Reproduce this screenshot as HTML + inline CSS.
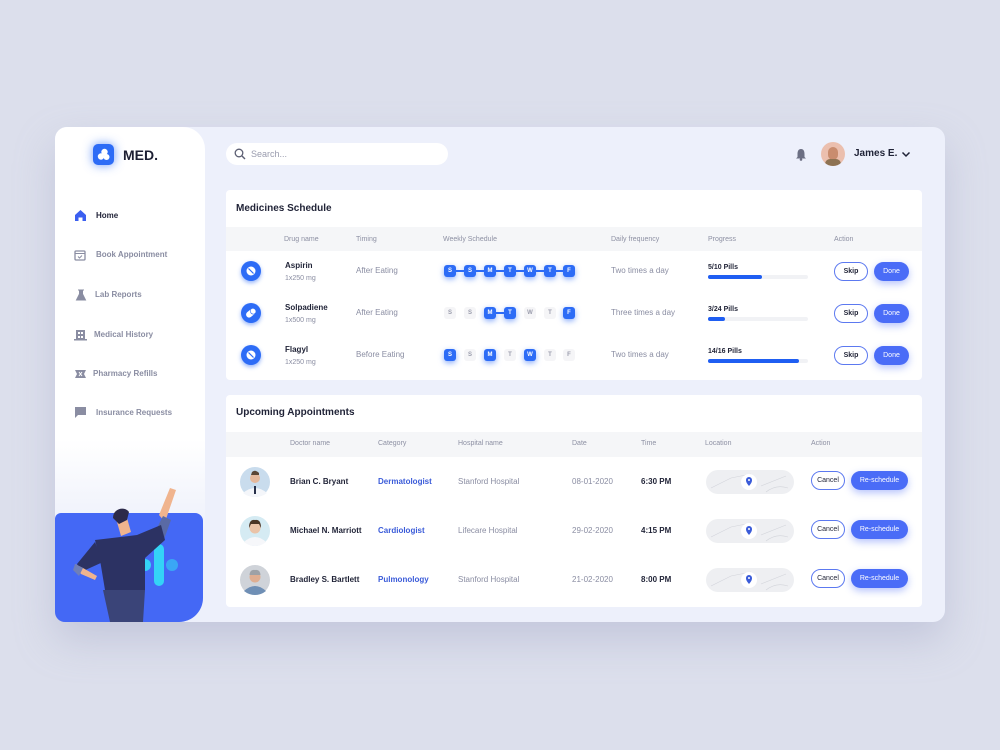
<!DOCTYPE html>
<html><head><meta charset="utf-8">
<style>
*{margin:0;padding:0;box-sizing:border-box}
body{width:1000px;height:750px;background:#dcdfec;font-family:"Liberation Sans",sans-serif;position:relative;overflow:hidden}
.abs{position:absolute}
.card{position:absolute;left:55px;top:127px;width:890px;height:495px;background:#edf0fb;border-radius:12px;box-shadow:0 18px 40px rgba(150,155,190,0.35)}
.side{position:absolute;left:55px;top:127px;width:150px;height:400px;border-radius:12px 22px 0 0;background:linear-gradient(#ffffff 0%,#ffffff 78%,#eef1fb 100%)}
.t{position:absolute;white-space:nowrap;line-height:1}
.nav{font-size:8px;color:#8a8da2;font-weight:bold}
.panel{position:absolute;background:#fff;border-radius:4px}
.hdr{position:absolute;left:0;right:0;background:#f5f6f8}
.h{font-size:7px;color:#8d90a3}
.dk{color:#1f2236;font-weight:bold}
.gr{color:#8a8da2}
.day{position:absolute;width:12px;height:12px;border-radius:3px;font-size:6px;font-weight:bold;text-align:center;line-height:12px}
.on{background:#2d6cf6;color:#fff;box-shadow:0 2px 6px rgba(45,108,246,0.55)}
.off{background:#f5f5f7;color:#9a9cac}
.btnO{position:absolute;border:1px solid #5c79f0;border-radius:10px;background:#fff;font-size:7px;font-weight:bold;color:#1f2236;text-align:center}
.btnF{position:absolute;background:#4a6cf7;border-radius:10px;font-size:7px;color:#fff;text-align:center;box-shadow:0 3px 8px rgba(74,108,247,0.4)}
.bar{position:absolute;height:4px;border-radius:2px;background:#f1f2f5}
.fill{position:absolute;left:0;top:0;height:4px;border-radius:2px;background:#1f5ef2}
.map{position:absolute;width:88px;height:24px;border-radius:12px;background:#eeeff2}
</style></head><body>
<div class="card"></div>
<div class="side"></div>

<!-- logo -->
<div class="abs" style="left:93px;top:144px;width:21px;height:21px;border-radius:5px;background:#2d6cf6;box-shadow:0 0 10px rgba(45,108,246,0.7)"></div>
<svg class="abs" style="left:93px;top:144px" width="21" height="21"><circle cx="11.5" cy="8" r="3.2" fill="#fff"/><circle cx="8" cy="12.5" r="3.2" fill="#fff"/><circle cx="13.5" cy="13" r="3" fill="#fff"/></svg>
<div class="t" style="left:123px;top:148px;font-size:14px;color:#1d1f33;font-weight:bold">MED.</div>

<!-- nav -->
<svg class="abs" style="left:74px;top:209px" width="13" height="13"><path d="M1 6 L6.5 1 L12 6 V12 H8.5 V8.5 H4.5 V12 H1Z" fill="#3b5ff0"/></svg>
<div class="t" style="left:96px;top:212px;font-size:8px;color:#1f2236;font-weight:bold">Home</div>
<svg class="abs" style="left:74px;top:249px" width="12" height="12"><rect x="1" y="2" width="10" height="9" rx="1" fill="none" stroke="#8a8da2" stroke-width="1.3"/><line x1="1" y1="4.5" x2="11" y2="4.5" stroke="#8a8da2"/><path d="M4 7.5 L5.5 9 L8 6.5" stroke="#8a8da2" fill="none"/></svg>
<div class="t nav" style="left:96px;top:251px">Book Appointment</div>
<svg class="abs" style="left:75px;top:289px" width="12" height="12"><path d="M3 1 H9 M4.5 1 V5 L1.5 11 H10.5 L7.5 5 V1" fill="#8a8da2" stroke="#8a8da2"/></svg>
<div class="t nav" style="left:95px;top:291px">Lab Reports</div>
<svg class="abs" style="left:74px;top:328px" width="13" height="13"><rect x="2" y="2" width="9" height="10" fill="#8a8da2"/><rect x="4" y="4" width="2" height="2" fill="#fff"/><rect x="7" y="4" width="2" height="2" fill="#fff"/><rect x="4" y="8" width="2" height="2" fill="#fff"/><rect x="7" y="8" width="2" height="2" fill="#fff"/><rect x="0" y="11" width="13" height="1.5" fill="#8a8da2"/></svg>
<div class="t nav" style="left:94px;top:331px">Medical History</div>
<svg class="abs" style="left:74px;top:368px" width="13" height="12"><path d="M1 2 H12 L10 6 L12 10 H1 L3 6Z" fill="#8a8da2"/><path d="M5 4 L8 8 M8 4 L5 8" stroke="#fff" stroke-width="1"/></svg>
<div class="t nav" style="left:93px;top:370px">Pharmacy Refills</div>
<svg class="abs" style="left:74px;top:406px" width="13" height="13"><path d="M1 1 H12 V9 H4 L1 12Z" fill="#8a8da2"/></svg>
<div class="t nav" style="left:96px;top:409px">Insurance Requests</div>

<!-- blue panel + illustration -->
<div class="abs" style="left:55px;top:513px;width:148px;height:109px;background:#4468f5;border-radius:6px 8px 24px 10px"></div>
<svg class="abs" style="left:55px;top:480px" width="150" height="142">
 <rect x="99" y="64" width="10" height="42" rx="5" fill="#34d3f7"/>
 <circle cx="90" cy="85" r="6" fill="#34d3f7"/>
 <circle cx="117" cy="85" r="6" fill="#3aa6f5"/>
 <path d="M104 35 L115 8 L121 10 L110 42Z" fill="#f0b48e"/>
 <path d="M100 52 L108 36 L116 40 L108 62Z" fill="#5a6aa5"/>
 <path d="M40 60 L82 55 L106 45 L110 60 L90 78 L90 110 L50 110 L45 80Z" fill="#2c3263"/>
 <path d="M40 62 L22 84 L26 92 L48 82Z" fill="#2c3263"/>
 <path d="M20 84 L26 94 L40 100 L42 96 L28 88Z" fill="#f0b48e"/>
 <path d="M20 84 L28 88 L24 96 L18 90Z" fill="#6f7fb8"/>
 <path d="M48 110 L90 110 L88 142 L55 142Z" fill="#3a4478"/>
 <path d="M62 42 L72 38 L76 52 L66 56Z" fill="#f0b48e"/>
 <path d="M58 38 C58 28 70 26 74 32 L72 40 L64 44Z" fill="#2c2a4a"/>
</svg>

<!-- top bar -->
<div class="abs" style="left:226px;top:143px;width:222px;height:22px;border-radius:11px;background:#fff"></div>
<svg class="abs" style="left:234px;top:148px" width="12" height="12"><circle cx="5" cy="5" r="3.8" fill="none" stroke="#5b5e72" stroke-width="1.3"/><line x1="8" y1="8" x2="11" y2="11" stroke="#5b5e72" stroke-width="1.4"/></svg>
<div class="t" style="left:251px;top:150px;font-size:9px;color:#9a9cae">Search...</div>
<svg class="abs" style="left:795px;top:148px" width="12" height="13"><path d="M6 1 C3 1 2.5 4 2.5 6 L2.5 9 L1 10.5 H11 L9.5 9 L9.5 6 C9.5 4 9 1 6 1Z" fill="#6c6f83"/><circle cx="6" cy="11.5" r="1.3" fill="#6c6f83"/></svg>
<div class="abs" style="left:821px;top:142px;width:24px;height:24px;border-radius:50%;background:#ebbfae;overflow:hidden"><div class="abs" style="left:7px;top:5px;width:10px;height:13px;border-radius:5px;background:#c98c6e"></div><div class="abs" style="left:4px;top:17px;width:16px;height:10px;border-radius:5px;background:#8d7252"></div></div>
<div class="t" style="left:854px;top:149px;font-size:10px;color:#1f2236;font-weight:bold">James E.</div>
<svg class="abs" style="left:901px;top:151px" width="10" height="7"><path d="M1.5 1.5 L5 5 L8.5 1.5" stroke="#1f2236" stroke-width="1.5" fill="none"/></svg>

<!-- Medicines -->
<div class="panel" style="left:226px;top:190px;width:696px;height:190px">
 <div class="t" style="left:10px;top:14px;font-size:10px" ><span class="dk">Medicines Schedule</span></div>
 <div class="hdr" style="top:37px;height:24px"></div>
</div>
<div class="t h" style="left:284px;top:236px">Drug name</div>
<div class="t h" style="left:356px;top:236px">Timing</div>
<div class="t h" style="left:443px;top:236px">Weekly Schedule</div>
<div class="t h" style="left:611px;top:236px">Daily frequency</div>
<div class="t h" style="left:708px;top:236px">Progress</div>
<div class="t h" style="left:834px;top:236px">Action</div>

<!-- med icons -->
<svg class="abs" style="left:236px;top:256px" width="30" height="130">
 <defs><filter id="gl" x="-50%" y="-50%" width="200%" height="200%"><feGaussianBlur stdDeviation="2"/></filter></defs>
 <circle cx="15" cy="17" r="10" fill="#2d6cf6" opacity="0.5" filter="url(#gl)"/>
 <circle cx="15" cy="15" r="10" fill="#2d6cf6"/>
 <circle cx="15" cy="15" r="4.5" fill="#fff"/><line x1="12.5" y1="12.5" x2="17.5" y2="17.5" stroke="#2d6cf6" stroke-width="1.2"/>
 <circle cx="15" cy="59" r="10" fill="#2d6cf6" opacity="0.5" filter="url(#gl)"/>
 <circle cx="15" cy="57" r="10" fill="#2d6cf6"/>
 <rect x="9.5" y="54" width="11" height="6" rx="3" transform="rotate(-40 15 57)" fill="#fff"/><rect x="15" y="54" width="5.5" height="6" rx="3" transform="rotate(-40 15 57)" fill="#fff" stroke="#2d6cf6" stroke-width="0.6"/>
 <circle cx="15" cy="101" r="10" fill="#2d6cf6" opacity="0.5" filter="url(#gl)"/>
 <circle cx="15" cy="99" r="10" fill="#2d6cf6"/>
 <circle cx="15" cy="99" r="4.5" fill="#fff"/><line x1="12.5" y1="96.5" x2="17.5" y2="101.5" stroke="#2d6cf6" stroke-width="1.2"/>
</svg>

<div class="t dk" style="left:285px;top:262px;font-size:8px">Aspirin</div>
<div class="t gr" style="left:285px;top:275px;font-size:7px">1x250 mg</div>
<div class="t dk" style="left:285px;top:304px;font-size:8px">Solpadiene</div>
<div class="t gr" style="left:285px;top:317px;font-size:7px">1x500 mg</div>
<div class="t dk" style="left:285px;top:346px;font-size:8px">Flagyl</div>
<div class="t gr" style="left:285px;top:359px;font-size:7px">1x250 mg</div>

<div class="t gr" style="left:356px;top:267px;font-size:8px">After Eating</div>
<div class="t gr" style="left:356px;top:309px;font-size:8px">After Eating</div>
<div class="t gr" style="left:356px;top:351px;font-size:8px">Before Eating</div>

<!-- days row1 -->
<div class="abs" style="left:450px;top:270px;width:119px;height:2px;background:#2d6cf6"></div>
<div class="day on" style="left:444px;top:265px">S</div>
<div class="day on" style="left:464px;top:265px">S</div>
<div class="day on" style="left:484px;top:265px">M</div>
<div class="day on" style="left:504px;top:265px">T</div>
<div class="day on" style="left:524px;top:265px">W</div>
<div class="day on" style="left:544px;top:265px">T</div>
<div class="day on" style="left:563px;top:265px">F</div>
<!-- row2 -->
<div class="abs" style="left:490px;top:312px;width:20px;height:2px;background:#2d6cf6"></div>
<div class="day off" style="left:444px;top:307px">S</div>
<div class="day off" style="left:464px;top:307px">S</div>
<div class="day on" style="left:484px;top:307px">M</div>
<div class="day on" style="left:504px;top:307px">T</div>
<div class="day off" style="left:524px;top:307px">W</div>
<div class="day off" style="left:544px;top:307px">T</div>
<div class="day on" style="left:563px;top:307px">F</div>
<!-- row3 -->
<div class="day on" style="left:444px;top:349px">S</div>
<div class="day off" style="left:464px;top:349px">S</div>
<div class="day on" style="left:484px;top:349px">M</div>
<div class="day off" style="left:504px;top:349px">T</div>
<div class="day on" style="left:524px;top:349px">W</div>
<div class="day off" style="left:544px;top:349px">T</div>
<div class="day off" style="left:563px;top:349px">F</div>

<div class="t gr" style="left:611px;top:267px;font-size:8px">Two times a day</div>
<div class="t gr" style="left:611px;top:309px;font-size:8px">Three times a day</div>
<div class="t gr" style="left:611px;top:351px;font-size:8px">Two times a day</div>

<div class="t dk" style="left:708px;top:264px;font-size:7px">5/10 Pills</div>
<div class="bar" style="left:708px;top:275px;width:100px"><div class="fill" style="width:54px"></div></div>
<div class="t dk" style="left:708px;top:306px;font-size:7px">3/24 Pills</div>
<div class="bar" style="left:708px;top:317px;width:100px"><div class="fill" style="width:17px"></div></div>
<div class="t dk" style="left:708px;top:348px;font-size:7px">14/16 Pills</div>
<div class="bar" style="left:708px;top:359px;width:100px"><div class="fill" style="width:91px"></div></div>

<div class="btnO" style="left:834px;top:262px;width:34px;height:19px;line-height:17px">Skip</div>
<div class="btnF" style="left:874px;top:262px;width:35px;height:19px;line-height:19px">Done</div>
<div class="btnO" style="left:834px;top:304px;width:34px;height:19px;line-height:17px">Skip</div>
<div class="btnF" style="left:874px;top:304px;width:35px;height:19px;line-height:19px">Done</div>
<div class="btnO" style="left:834px;top:346px;width:34px;height:19px;line-height:17px">Skip</div>
<div class="btnF" style="left:874px;top:346px;width:35px;height:19px;line-height:19px">Done</div>

<!-- Appointments -->
<div class="panel" style="left:226px;top:395px;width:696px;height:212px">
 <div class="t dk" style="left:10px;top:13px;font-size:10px">Upcoming Appointments</div>
 <div class="hdr" style="top:37px;height:25px"></div>
</div>
<div class="t h" style="left:290px;top:440px">Doctor name</div>
<div class="t h" style="left:378px;top:440px">Category</div>
<div class="t h" style="left:458px;top:440px">Hospital name</div>
<div class="t h" style="left:572px;top:440px">Date</div>
<div class="t h" style="left:641px;top:440px">Time</div>
<div class="t h" style="left:705px;top:440px">Location</div>
<div class="t h" style="left:811px;top:440px">Action</div>

<!-- avatars -->
<svg class="abs" style="left:240px;top:466px" width="32" height="132">
 <circle cx="15" cy="16" r="15" fill="#c9dced"/><circle cx="15" cy="12" r="5" fill="#e4b89c"/><path d="M3 27 Q15 17 27 27 Q22 31 15 31 Q8 31 3 27Z" fill="#f4f6fa"/><path d="M12 6 Q15 3 19 7 L19 9 L11 9Z" fill="#5a4636"/><rect x="14" y="20" width="2" height="8" fill="#27304a"/>
 <circle cx="15" cy="65" r="15" fill="#d5ebf3"/><circle cx="15" cy="62" r="5.5" fill="#eac3a8"/><path d="M9 62 Q9 53 15 54 Q21 53 21 62 L19 58 L11 58Z" fill="#4b3526"/><path d="M4 76 Q15 66 26 76 Q21 80 15 80 Q9 80 4 76Z" fill="#f6f7fa"/>
 <circle cx="15" cy="114" r="15" fill="#cfd3d9"/><circle cx="15" cy="111" r="5.5" fill="#deae92"/><path d="M9.5 109 Q10 103 15 104 Q20 103 20.5 109Z" fill="#9da1a6"/><path d="M4 125 Q15 115 26 125 Q21 129 15 129 Q9 129 4 125Z" fill="#6f8fb5"/>
</svg>

<div class="t dk" style="left:290px;top:478px;font-size:8px">Brian C. Bryant</div>
<div class="t dk" style="left:290px;top:527px;font-size:8px">Michael N. Marriott</div>
<div class="t dk" style="left:290px;top:576px;font-size:8px">Bradley S. Bartlett</div>
<div class="t" style="left:378px;top:478px;font-size:8px;color:#3a5bd9;font-weight:bold">Dermatologist</div>
<div class="t" style="left:378px;top:527px;font-size:8px;color:#3a5bd9;font-weight:bold">Cardiologist</div>
<div class="t" style="left:378px;top:576px;font-size:8px;color:#3a5bd9;font-weight:bold">Pulmonology</div>
<div class="t gr" style="left:458px;top:478px;font-size:8px">Stanford Hospital</div>
<div class="t gr" style="left:458px;top:527px;font-size:8px">Lifecare Hospital</div>
<div class="t gr" style="left:458px;top:576px;font-size:8px">Stanford Hospital</div>
<div class="t gr" style="left:572px;top:478px;font-size:8px">08-01-2020</div>
<div class="t gr" style="left:572px;top:527px;font-size:8px">29-02-2020</div>
<div class="t gr" style="left:572px;top:576px;font-size:8px">21-02-2020</div>
<div class="t dk" style="left:641px;top:478px;font-size:8px">6:30 PM</div>
<div class="t dk" style="left:641px;top:527px;font-size:8px">4:15 PM</div>
<div class="t dk" style="left:641px;top:576px;font-size:8px">8:00 PM</div>

<!-- maps -->
<div class="map" style="left:706px;top:470px"></div>
<div class="map" style="left:706px;top:519px"></div>
<div class="map" style="left:706px;top:568px"></div>
<svg class="abs" style="left:706px;top:470px" width="88" height="124">
 <g fill="none" stroke="#d2d4da" stroke-width="0.6">
  <path d="M5 18 L25 8 L45 4 M55 16 L80 6 M60 22 Q70 14 82 18"/>
  <path d="M5 67 L25 57 L45 53 M55 65 L80 55 M60 71 Q70 63 82 67"/>
  <path d="M5 116 L25 106 L45 102 M55 114 L80 104 M60 120 Q70 112 82 116"/>
 </g>
 <circle cx="43" cy="12" r="8" fill="#fff"/><path d="M43 16 C40 12.5 40 11 40 10 A3 3 0 0 1 46 10 C46 11 46 12.5 43 16Z" fill="#3a5bd9"/><circle cx="43" cy="10" r="1" fill="#fff"/>
 <circle cx="43" cy="61" r="8" fill="#fff"/><path d="M43 65 C40 61.5 40 60 40 59 A3 3 0 0 1 46 59 C46 60 46 61.5 43 65Z" fill="#3a5bd9"/><circle cx="43" cy="59" r="1" fill="#fff"/>
 <circle cx="43" cy="110" r="8" fill="#fff"/><path d="M43 114 C40 110.5 40 109 40 108 A3 3 0 0 1 46 108 C46 109 46 110.5 43 114Z" fill="#3a5bd9"/><circle cx="43" cy="108" r="1" fill="#fff"/>
</svg>

<div class="btnO" style="left:811px;top:471px;width:34px;height:19px;line-height:17px;font-weight:normal">Cancel</div>
<div class="btnF" style="left:851px;top:471px;width:57px;height:19px;line-height:19px">Re-schedule</div>
<div class="btnO" style="left:811px;top:520px;width:34px;height:19px;line-height:17px;font-weight:normal">Cancel</div>
<div class="btnF" style="left:851px;top:520px;width:57px;height:19px;line-height:19px">Re-schedule</div>
<div class="btnO" style="left:811px;top:569px;width:34px;height:19px;line-height:17px;font-weight:normal">Cancel</div>
<div class="btnF" style="left:851px;top:569px;width:57px;height:19px;line-height:19px">Re-schedule</div>
</body></html>
